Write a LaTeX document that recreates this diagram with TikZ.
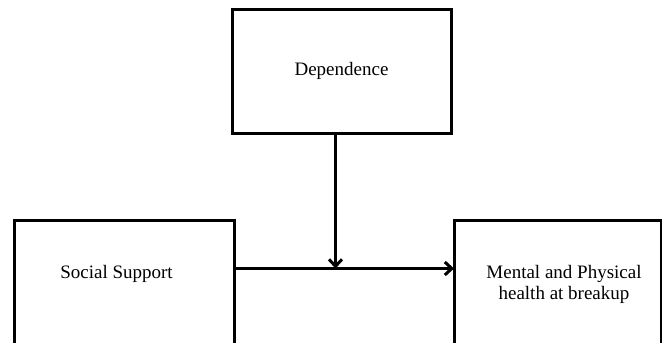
\documentclass[tikz,border=0pt]{standalone}
\usepackage{fontspec}
\setmainfont{Liberation Serif}
\usetikzlibrary{arrows.meta,positioning}

\begin{document}
\begin{tikzpicture}[
    x=1pt, y=-1pt,
    box/.style={draw, line width=3pt, rectangle, inner sep=0pt, outer sep=0pt},
    lbl/.style={align=center, inner sep=0pt, font=\fontsize{19}{21}\selectfont},
    link/.style={-{Straight Barb[length=7pt,width=13pt,line width=3pt]}, line width=3pt}
]
\useasboundingbox (0,0) rectangle (662,343);
\node[box, minimum width=219, minimum height=123.5] (dep) at (341.5,71.25) {};
\node[box, minimum width=220, minimum height=124] (ss) at (124,282) {};
\node[box, minimum width=207, minimum height=124] (out) at (557.5,282) {};
\node[lbl, anchor=base] (deplbl) at (341.5,75) {Dependence};
\node[lbl, anchor=base] (sslbl) at (116.5,278) {Social Support};
\node[lbl, anchor=base] (outlbl) at (564,299) {Mental and Physical\\health at breakup};
\coordinate (meet) at (335.5,268.5);
\draw[link] (dep.south -| meet) -- (meet);
\draw[link] (ss.east |- meet) -- (out.west |- meet);
\end{tikzpicture}
\end{document}
